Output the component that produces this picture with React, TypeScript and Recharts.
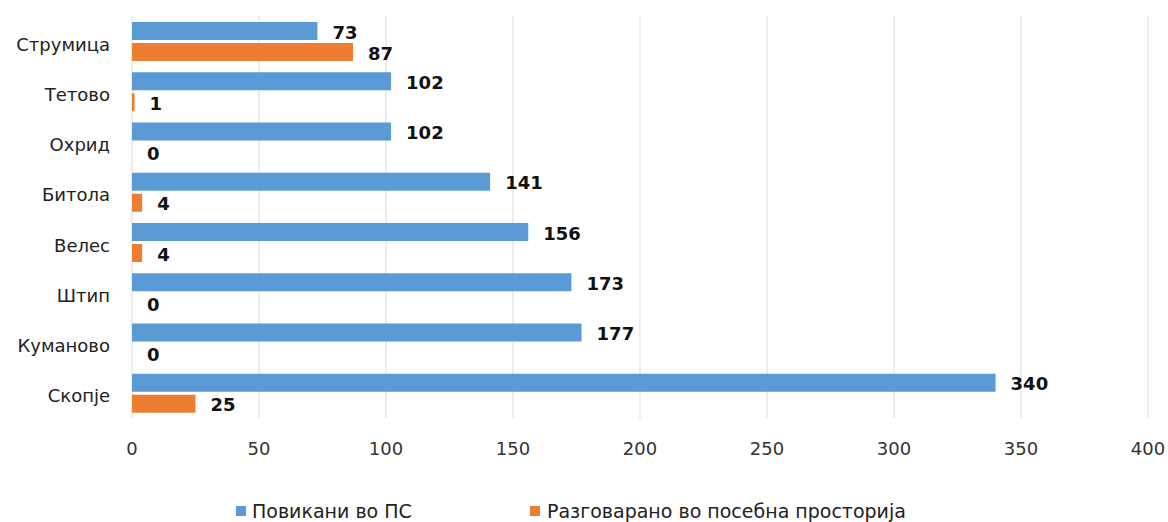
import React from "react";
import { BarChart, Bar, XAxis, YAxis, CartesianGrid, Legend, LabelList } from "recharts";

const categories = ["Струмица", "Тетово", "Охрид", "Битола ", "Велес", "Штип", "Куманово", "Скопје"];
const calledValues = [73, 102, 102, 141, 156, 173, 177, 340];
const interviewedValues = [87, 1, 0, 4, 4, 0, 0, 25];
const xTicks = [0, 50, 100, 150, 200, 250, 300, 350, 400];
const seriesNames = ["Повикани во ПС", "Разговарано во посебна просторија"];
const colors = ["#5B9BD5", "#ED7D31"];

const data = categories.map((c, i) => ({
  name: c,
  called: calledValues[i],
  interviewed: interviewedValues[i],
}));

const FONT = "'DejaVu Sans', sans-serif";

const LegendContent = () => (
  <div style={{ height: 24, position: "relative", fontFamily: FONT, fontSize: 19, color: "#222" }}>
    <div style={{ position: "absolute", left: 236, top: 8, width: 10, height: 10, background: colors[0] }} />
    <div style={{ position: "absolute", left: 252, top: 2, lineHeight: "22px" }}>{seriesNames[0]}</div>
    <div style={{ position: "absolute", left: 530, top: 8, width: 10, height: 10, background: colors[1] }} />
    <div style={{ position: "absolute", left: 547, top: 2, lineHeight: "22px" }}>{seriesNames[1]}</div>
  </div>
);

const ValueLabel = (props: any) => {
  const { x, y, width, height, value } = props;
  if (value === undefined || value === null) return null;
  return (
    <text
      x={Number(x) + Number(width || 0) + 15}
      y={Number(y) + Number(height) / 2 + 1}
      dominantBaseline="central"
      textAnchor="start"
      fill="#111"
      fontSize={18}
      fontWeight="bold"
      fontFamily={FONT}
    >
      {value}
    </text>
  );
};

const CategoryTick = (props: any) => {
  const { x, y, payload } = props;
  return (
    <text x={x} y={y + 3} textAnchor="end" dominantBaseline="central" fill="#222" fontSize={18} fontFamily={FONT}>
      {payload.value}
    </text>
  );
};

export default function App() {
  return (
    <div style={{ position: "absolute", left: 0, top: 0, width: 1168, height: 522, background: "#fff" }}>
      <BarChart
        width={1168}
        height={522}
        data={data}
        layout="vertical"
        margin={{ top: 16, right: 20, left: 0, bottom: 0 }}
        barSize={18}
        barGap={3}
      >
        <CartesianGrid horizontal={false} stroke="#D9D9D9" />
        <XAxis
          type="number"
          domain={[0, 400]}
          ticks={xTicks}
          axisLine={false}
          tickLine={false}
          tickSize={0}
          tickMargin={24}
          height={80}
          tick={{ fill: "#333", fontSize: 18, fontFamily: FONT }}
          interval={0}
        />
        <YAxis
          type="category"
          dataKey="name"
          width={132}
          axisLine={false}
          tickLine={false}
          tickSize={0}
          tickMargin={22}
          tick={<CategoryTick />}
          interval={0}
        />
        <Legend verticalAlign="bottom" content={<LegendContent />} wrapperStyle={{ left: 0, width: 1168 }} />
        <Bar dataKey="called" name={seriesNames[0]} fill={colors[0]} isAnimationActive={false}>
          <LabelList dataKey="called" content={<ValueLabel />} />
        </Bar>
        <Bar dataKey="interviewed" name={seriesNames[1]} fill={colors[1]} minPointSize={0.001} isAnimationActive={false}>
          <LabelList dataKey="interviewed" content={<ValueLabel />} />
        </Bar>
      </BarChart>
    </div>
  );
}
